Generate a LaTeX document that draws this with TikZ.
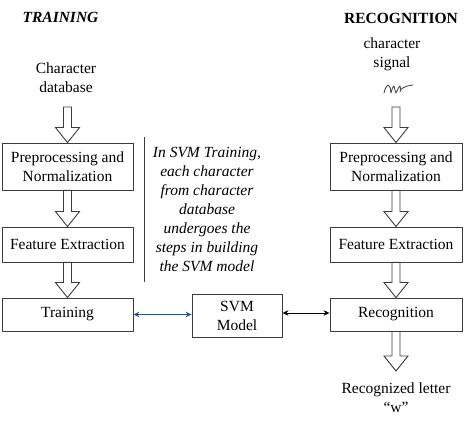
\documentclass[tikz,border=0pt]{standalone}
\usepackage{fontspec}
\setmainfont{Liberation Serif}
\usetikzlibrary{arrows.meta,positioning,calc}
\definecolor{edgegray}{RGB}{60,60,60}
\definecolor{linkblue}{RGB}{45,80,130}
\newcommand{\blockarrow}[2]{%
  \draw[hollow] let \p1=(#1), \p2=(#2) in
    (\x1-4pt,\y1) -- (\x1-4pt,\y2+15pt) -- (\x1-12pt,\y2+15pt) -- (\x1,\y2)
    -- (\x1+12pt,\y2+15pt) -- (\x1+4pt,\y2+15pt) -- (\x1+4pt,\y1) -- cycle;}

\begin{document}
\begin{tikzpicture}[
  x=1pt,y=-1pt,
  txt/.style={font=\fontsize{15.5}{19}\selectfont,align=center,inner sep=0},
  stage/.style={txt,rectangle,draw=edgegray,line width=0.9pt,minimum width=131},
  hollow/.style={draw=edgegray,line width=0.9pt,fill=white},
  link/.style={line width=0.9pt,{Stealth[length=6pt,width=5.5pt]}-{Stealth[length=6pt,width=5.5pt]}},
  sig/.style={draw=black!70,line width=0.9pt,line cap=round,line join=round}
]
\useasboundingbox (0,0) rectangle (468,427);
% titles
\node[txt,font=\fontsize{15.5}{19}\selectfont\bfseries\itshape] (ttrain) at (60.5,17) {TRAINING};
\node[txt,font=\fontsize{15.5}{19}\selectfont\bfseries] (trecog) at (401,18) {RECOGNITION};
% training column
\node[txt] (db) at (66,77.5) {Character\\database};
\coordinate (dbend) at (67.5,107);
\node[stage,minimum height=47] (lpre) at (67.5,166.5) {Preprocessing and\\Normalization};
\node[stage,minimum height=35] (lfe) at (67.5,244.5) {Feature Extraction};
\node[stage,minimum height=33] (ltrain) at (67.5,314.5) {Training};
% recognition column
\node[txt] (sig) at (392,54) {character\\signal};
\draw[sig] (384,93) .. controls (385,89) and (386,86) .. (388,85)
  .. controls (390,86) and (391,90) .. (391,93)
  .. controls (392,89) and (393,86) .. (394,86)
  .. controls (395,89) and (395,92) .. (396,93)
  .. controls (397,90) and (399,87) .. (400,86)
  .. controls (401,88) and (401,91) .. (400,92)
  .. controls (400,89) and (404,86) .. (413,85);
\coordinate (sigend) at (396,107);
\node[stage,minimum height=47,minimum width=132] (rpre) at (396,166.5) {Preprocessing and\\Normalization};
\node[stage,minimum height=35,minimum width=132] (rfe) at (396,244.5) {Feature Extraction};
\node[stage,minimum height=33,minimum width=132] (rrec) at (396,314.5) {Recognition};
\coordinate (outend) at (396,371);
\node[txt] (out) at (396,398) {Recognized letter\\“w”};
% model
\node[stage,minimum width=90,minimum height=43] (svm) at (237,315.5) {SVM\\Model};
% note
\node[txt,font=\fontsize{15.5}{19}\selectfont\itshape] (note) at (207,209.5)
  {In SVM Training,\\each character\\from character\\database\\undergoes the\\steps in building\\the SVM model};
\draw[edgegray,line width=0.9pt] (144,137) -- (144,282);
% flow
\foreach \a/\b in {dbend/lpre.north,lpre.south/lfe.north,lfe.south/ltrain.north,
  sigend/rpre.north,rpre.south/rfe.north,rfe.south/rrec.north,rrec.south/outend}{
  \blockarrow{\a}{\b}
}
\draw[link,draw=linkblue,fill=linkblue] (ltrain.east) -- (svm.west |- ltrain.east);
\draw[link,draw=black,fill=black] (svm.east |- 0,313) -- (rrec.west |- 0,313);
\end{tikzpicture}
\end{document}
